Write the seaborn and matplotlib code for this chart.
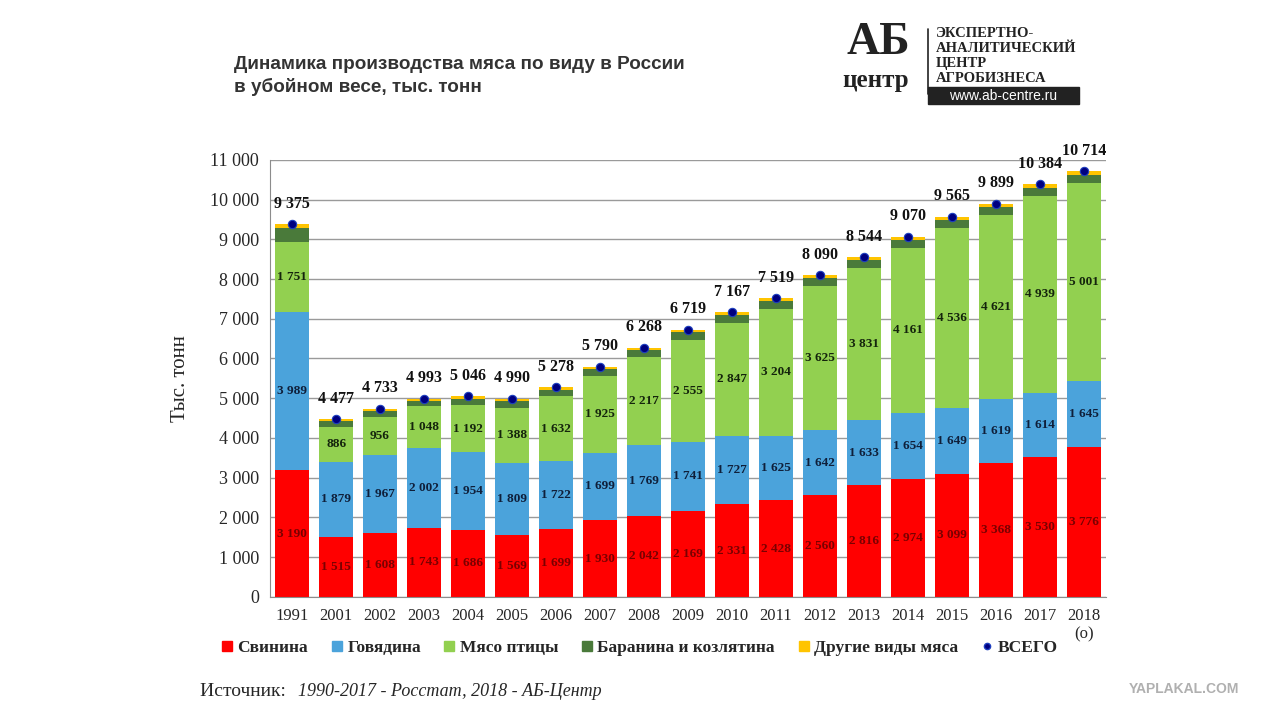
import numpy as np
import pandas as pd
import matplotlib
matplotlib.use("Agg")
import matplotlib.pyplot as plt
import seaborn as sns
from matplotlib.lines import Line2D
from matplotlib.patches import Rectangle

# ----- Data (тыс. тонн, убойный вес) -----
years = ["1991", "2001", "2002", "2003", "2004", "2005", "2006", "2007", "2008", "2009",
         "2010", "2011", "2012", "2013", "2014", "2015", "2016", "2017", "2018\n(о)"]
pork = [3190, 1515, 1608, 1743, 1686, 1569, 1699, 1930, 2042, 2169,
        2331, 2428, 2560, 2816, 2974, 3099, 3368, 3530, 3776]
beef = [3989, 1879, 1967, 2002, 1954, 1809, 1722, 1699, 1769, 1741,
        1727, 1625, 1642, 1633, 1654, 1649, 1619, 1614, 1645]
poultry = [1751, 886, 956, 1048, 1192, 1388, 1632, 1925, 2217, 2555,
           2847, 3204, 3625, 3831, 4161, 4536, 4621, 4939, 5001]
lamb = [350, 140, 145, 145, 155, 165, 165, 175, 180, 190,
        195, 195, 195, 195, 205, 205, 210, 215, 205]
other = [95, 57, 57, 55, 59, 59, 60, 61, 60, 64,
         67, 67, 68, 69, 76, 76, 81, 86, 87]
total = [9375, 4477, 4733, 4993, 5046, 4990, 5278, 5790, 6268, 6719,
         7167, 7519, 8090, 8544, 9070, 9565, 9899, 10384, 10714]

series_names = ["Свинина", "Говядина", "Мясо птицы", "Баранина и козлятина", "Другие виды мяса"]
colors = ["#FF0000", "#4BA3DB", "#92D050", "#4A7A3A", "#FFC400"]
label_colors = ["#7A0000", "#0F1F3A", "#14240C"]

df = pd.DataFrame({"Год": years, "Свинина": pork, "Говядина": beef, "Мясо птицы": poultry,
                   "Баранина и козлятина": lamb, "Другие виды мяса": other, "ВСЕГО": total})

def fmt(v):
    return f"{int(v):,}".replace(",", " ")

sns.set_style("white")
plt.rcParams['font.family'] = ['Liberation Serif', 'DejaVu Serif']

fig = plt.figure(figsize=(12.8, 7.2), dpi=100)
ax = fig.add_axes([0.211, 0.171, 0.653, 0.607])

# stacked bars: draw cumulative heights back to front
cum = df[series_names].cumsum(axis=1)
for name, col in reversed(list(zip(series_names, colors))):
    sns.barplot(x=df["Год"], y=cum[name], color=col, width=0.77, saturation=1,
                edgecolor="none", linewidth=0, ax=ax, zorder=2)

# total dots
sns.pointplot(x=df["Год"], y=df["ВСЕГО"], linestyle="none", color="#000080",
              markers="o", markersize=6, markeredgecolor="#1E3FBF", markeredgewidth=0.8,
              ax=ax, zorder=5)

# segment labels
bottoms = np.zeros(len(years))
for name, lc in zip(series_names[:3], label_colors):
    vals = df[name].values
    for i, v in enumerate(vals):
        ax.text(i, bottoms[i] + v / 2, fmt(v), ha="center", va="center",
                fontsize=9.5, fontweight="bold", color=lc, zorder=6)
    bottoms += vals

# total labels
for i, v in enumerate(total):
    ax.annotate(fmt(v), (i, v), xytext=(0, 9), textcoords="offset points",
                ha="center", va="bottom", fontsize=11.5, fontweight="bold", color="#111111")

ax.set_ylim(0, 11000)
ax.set_xlim(-0.5, len(years) - 0.5)
ax.set_yticks(range(0, 11001, 1000))
ax.set_yticklabels([fmt(t) for t in range(0, 11001, 1000)], fontsize=13)
ax.tick_params(axis="x", labelsize=12, length=0, pad=8)
ax.tick_params(axis="y", length=0, pad=8)
ax.yaxis.grid(True, color="#9A9A9A", linewidth=1, zorder=0)
ax.set_axisbelow(True)
for s in ["top", "right"]:
    ax.spines[s].set_visible(False)
ax.spines["left"].set_color("#8C8C8C")
ax.spines["bottom"].set_color("#8C8C8C")
ax.set_xlabel("")
ax.set_ylabel("Тыс. тонн", fontsize=15, labelpad=14)

# legend
handles = [Line2D([], [], marker="s", linestyle="none", markersize=7.5,
                  markerfacecolor=c, markeredgecolor=c) for c in colors]
handles.append(Line2D([], [], marker="o", linestyle="none", markersize=4.5,
                      markerfacecolor="#000080", markeredgecolor="#1E3FBF"))
fig.legend(handles, series_names + ["ВСЕГО"], loc="center", bbox_to_anchor=(0.497, 0.1),
           ncol=6, frameon=False, handletextpad=-0.1, columnspacing=0.95, handlelength=1.4,
           prop={"family": "Liberation Serif", "weight": "bold", "size": 12.5})

# title
fig.text(0.183, 0.894, "Динамика производства мяса по виду в России\nв убойном весе, тыс. тонн",
         fontsize=13.6, fontweight="bold", color="#333333", family="Liberation Sans",
         va="center", ha="left", linespacing=1.35)

# source
fig.text(0.156, 0.04, "Источник: ", fontsize=14, ha="left", va="center")
fig.text(0.233, 0.04, "1990-2017 - Росстат, 2018 - АБ-Центр", fontsize=13,
         style="italic", ha="left", va="center")

# logo
fig.text(0.686, 0.94, "АБ", fontsize=33, fontweight="bold", ha="center", va="center", color="#222222")
fig.text(0.684, 0.888, "центр", fontsize=18, fontweight="bold", ha="center", va="center", color="#222222")
fig.add_artist(Line2D([0.725, 0.725], [0.87, 0.96], color="#222222", linewidth=1.2))
for k, line in enumerate(["ЭКСПЕРТНО-", "АНАЛИТИЧЕСКИЙ", "ЦЕНТР", "АГРОБИЗНЕСА"]):
    fig.text(0.731, 0.953 - k * 0.0205, line, fontsize=10.5, fontweight="bold",
             ha="left", va="center", color="#222222")
fig.add_artist(Rectangle((0.725, 0.855), 0.118, 0.024, color="#222222", transform=fig.transFigure))
fig.text(0.784, 0.867, "www.ab-centre.ru", fontsize=10, ha="center", va="center",
         color="white", family="Liberation Sans")

# watermark
fig.text(0.925, 0.043, "YAPLAKAL.COM", fontsize=10, fontweight="bold", color="#B0B0B0",
         family="Liberation Sans", ha="center", va="center")

fig.savefig("out.png", dpi=100)
